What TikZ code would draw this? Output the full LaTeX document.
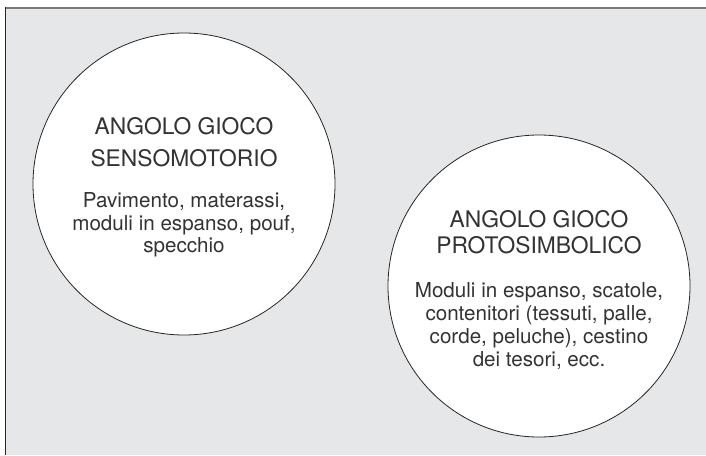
\documentclass[tikz,border=0pt]{standalone}
\usepackage{fontspec}
\setmainfont{TeX Gyre Heros}
\definecolor{bg}{HTML}{E6E7E8}
\definecolor{ink}{HTML}{333333}
\definecolor{topline}{HTML}{7A7A7A}
\begin{document}
\begin{tikzpicture}[x=1pt,y=-1pt,
  zone/.style={circle,draw=black!85,line width=0.8pt,fill=white,minimum size=302pt,inner sep=0pt},
  ttl/.style={anchor=base,inner sep=0pt,text=ink,font=\fontsize{22.8}{27}\selectfont},
  bdy/.style={anchor=base,inner sep=0pt,text=ink,font=\fontsize{20.6}{24}\selectfont}]
\useasboundingbox (0,0) rectangle (706,455);
\fill[bg] (5,8) rectangle (706,455);
\draw[topline,line width=1.6pt] (5,7.8) -- (706,7.8);
\draw[black!85,line width=1pt] (5.5,7) -- (5.5,455);
\node[zone] (c1) at (184,184) {};
\node[zone] (c2) at (539,286) {};
\node[ttl] (t1a) at (184,134) {ANGOLO GIOCO};
\node[ttl] (t1b) at (184,166) {SENSOMOTORIO};
\node[bdy] (b1a) at (184,207) {Pavimento, materassi,};
\node[bdy] (b1b) at (184,230) {moduli in espanso, pouf,};
\node[bdy] (b1c) at (184,252) {specchio};
\node[ttl] (t2a) at (539,227) {ANGOLO GIOCO};
\node[ttl] (t2b) at (539,253) {PROTOSIMBOLICO};
\node[bdy] (b2a) at (539,297) {Moduli in espanso, scatole,};
\node[bdy] (b2b) at (539,320) {contenitori (tessuti, palle,};
\node[bdy] (b2c) at (539,343) {corde, peluche), cestino};
\node[bdy] (b2d) at (539,366) {dei tesori, ecc.};
\end{tikzpicture}
\end{document}
